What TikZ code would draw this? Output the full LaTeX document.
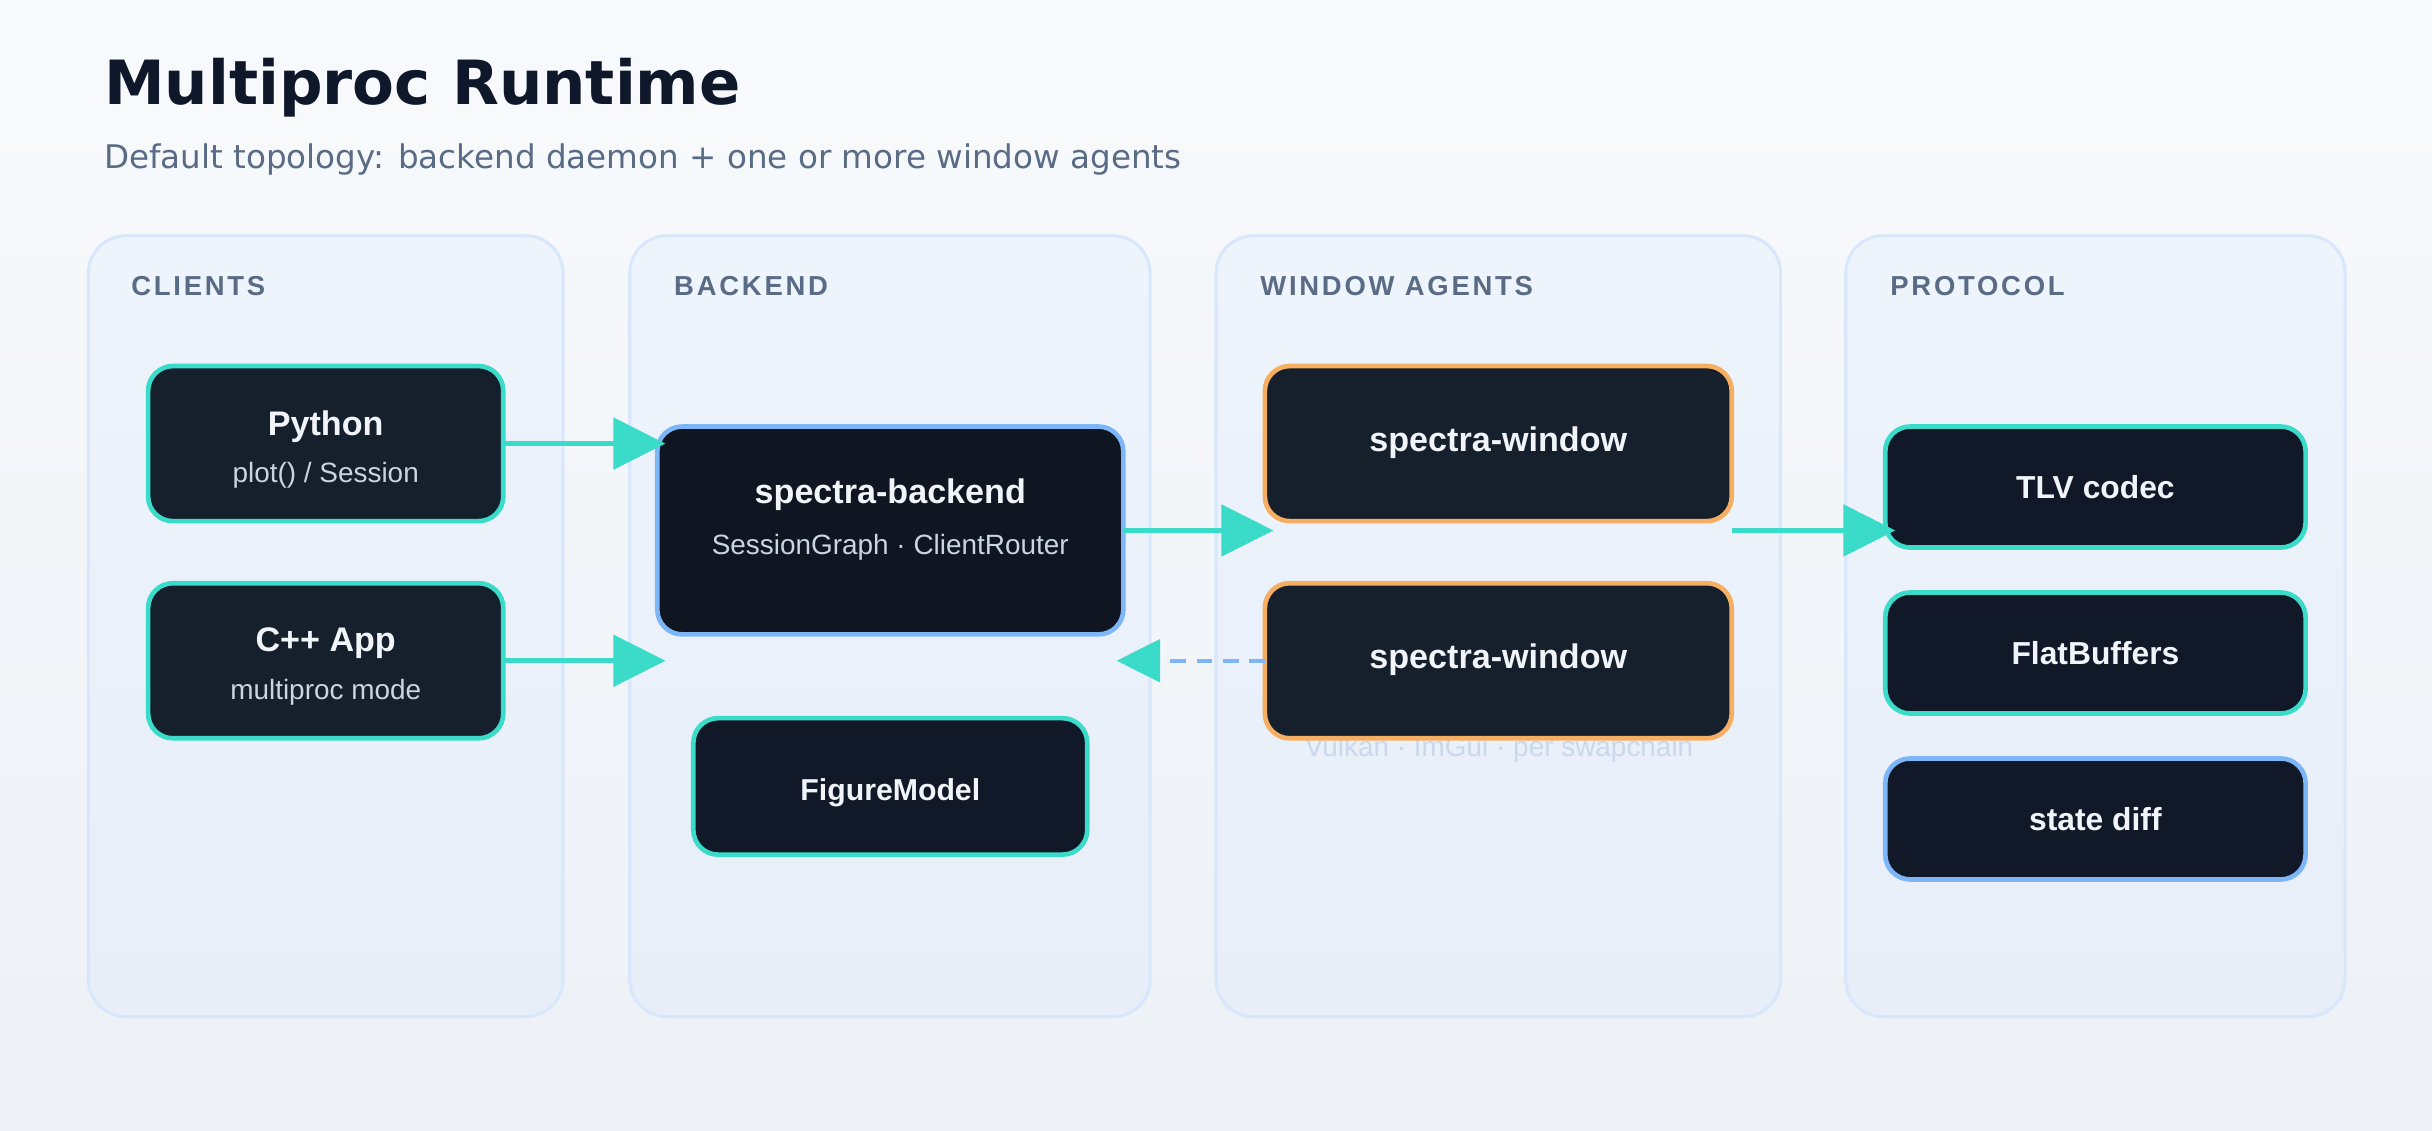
\documentclass[tikz,border=0pt]{standalone}
\usepackage{fontspec}
\usetikzlibrary{arrows.meta,calc}
\newfontfamily\dejavu{DejaVu Sans}
\newfontfamily\lib{Liberation Sans}
\newfontfamily\lblfont[LetterSpace=10]{Liberation Sans}
\definecolor{bgtop}{HTML}{F8FAFC}
\definecolor{bgbot}{HTML}{EDF1F6}
\definecolor{paneltop}{HTML}{EEF4FC}
\definecolor{panelbot}{HTML}{E7EEF8}
\definecolor{panelborder}{HTML}{D8E7FB}
\definecolor{nodeA}{HTML}{161F2C}
\definecolor{nodeB}{HTML}{0F1521}
\definecolor{nodeC}{HTML}{111827}
\definecolor{tealE}{HTML}{3ADBC9}
\definecolor{blueE}{HTML}{7DB6F8}
\definecolor{orangeE}{HTML}{F5AE62}
\definecolor{titleC}{HTML}{0F172A}
\definecolor{slateC}{HTML}{5A6B86}
\definecolor{whiteT}{HTML}{F1F5F9}
\definecolor{subT}{HTML}{CBD5E1}
\definecolor{faintT}{HTML}{C9D8EB}
\tikzset{
  panel/.style={line width=2pt, draw=panelborder, top color=paneltop, bottom color=panelbot, rounded corners=24pt},
  lbl/.style={anchor=base west, inner sep=0pt, text=slateC, font=\lblfont\bfseries\fontsize{17.7}{21}\selectfont},
  box/.style={rectangle, rounded corners=16pt, line width=3pt, inner sep=0pt, outer sep=0pt},
  tealbox/.style={box, draw=tealE},
  bluebox/.style={box, draw=blueE},
  orangebox/.style={box, draw=orangeE},
  ttl/.style={anchor=base, inner sep=0pt, text=whiteT, font=\lib\bfseries\fontsize{22}{26}\selectfont},
  sml/.style={anchor=base, inner sep=0pt, text=whiteT, font=\lib\bfseries\fontsize{20.5}{24}\selectfont},
  sub/.style={anchor=base, inner sep=0pt, text=subT, font=\lib\fontsize{18}{22}\selectfont},
  arr/.style={line width=3pt, draw=tealE, -{Triangle[length=33.5pt, width=33pt, color=tealE]}},
  darr/.style={line width=2.5pt, draw=blueE, dash pattern=on 10pt off 7pt, -{Triangle[length=28pt, width=27.5pt, color=tealE]}}
}
\begin{document}
\begin{tikzpicture}[x=1pt, y=-1pt]
\useasboundingbox (0,0) rectangle (1568,729);
\shade[top color=bgtop, bottom color=bgbot] (0,0) rectangle (1568,729);

% title
\node[anchor=base west, inner sep=0pt, text=titleC, font=\dejavu\bfseries\fontsize{39.3}{47}\selectfont] (title) at (67,67.3) {Multiproc Runtime};
\node[anchor=base west, inner sep=0pt, text=slateC, font=\dejavu\fontsize{21}{25}\selectfont] (subtitle) at (67,108.5) {Default topology: backend daemon + one or more window agents};

% panels
\path[panel] (57,152) rectangle (363,655.5);
\path[panel] (406,152) rectangle (741.5,655.5);
\path[panel] (784,152) rectangle (1148,655.5);
\path[panel] (1190,152) rectangle (1512,655.5);
\node[lbl] (l1) at (84.5,190.8) {CLIENTS};
\node[lbl] (l2) at (434.5,190.8) {BACKEND};
\node[lbl] (l3) at (812.4,190.8) {WINDOW AGENTS};
\node[lbl] (l4) at (1218.6,190.8) {PROTOCOL};

% faint caption (under window box)
\node[anchor=base, inner sep=0pt, text=faintT, font=\lib\fontsize{18}{22}\selectfont] (cap) at (966.5,487.5) {Vulkan · ImGui · per swapchain};

% clients
\node[tealbox, fill=nodeA, minimum width=229pt, minimum height=100pt] (py) at (210,286) {};
\node[ttl] (pyt) at ($(py.center)+(0,-5.4)$) {Python};
\node[sub] (pys) at ($(py.center)+(0,25)$) {plot() / Session};
\node[tealbox, fill=nodeA, minimum width=229pt, minimum height=100pt] (cpp) at (210,426) {};
\node[ttl] (cppt) at ($(cpp.center)+(0,-5.8)$) {C++ App};
\node[sub] (cpps) at ($(cpp.center)+(0,25)$) {multiproc mode};

% backend
\node[bluebox, fill=nodeB, minimum width=300.5pt, minimum height=134pt] (be) at (574,342) {};
\node[ttl] (bet) at ($(be.center)+(0,-17.5)$) {spectra-backend};
\node[sub] (bes) at ($(be.center)+(0,15.8)$) {SessionGraph · ClientRouter};
\node[tealbox, fill=nodeC, minimum width=254pt, minimum height=88pt] (fm) at (574,507) {};
\node[anchor=base, inner sep=0pt, text=whiteT, font=\lib\bfseries\fontsize{19.5}{23}\selectfont] (fmt) at ($(fm.center)+(0,9.2)$) {FigureModel};

% window agents
\node[orangebox, fill=nodeA, minimum width=301pt, minimum height=100pt] (w1) at (966,286) {};
\node[ttl] (w1t) at ($(w1.center)+(0,5.2)$) {spectra-window};
\node[orangebox, fill=nodeA, minimum width=301pt, minimum height=100pt] (w2) at (966,426) {};
\node[ttl] (w2t) at ($(w2.center)+(0,5.2)$) {spectra-window};

% protocol
\node[tealbox, fill=nodeC, minimum width=271pt, minimum height=78pt] (tlv) at (1351,314) {};
\node[sml] (tlvt) at ($(tlv.center)+(0,7.3)$) {TLV codec};
\node[tealbox, fill=nodeC, minimum width=271pt, minimum height=78pt] (fb) at (1351,421) {};
\node[sml] (fbt) at ($(fb.center)+(0,7.3)$) {FlatBuffers};
\node[bluebox, fill=nodeC, minimum width=271pt, minimum height=78pt] (sd) at (1351,528) {};
\node[sml] (sdt) at ($(sd.center)+(0,7.3)$) {state diff};

% connectors
\coordinate (t1) at (429,286);
\coordinate (t2) at (429,426);
\coordinate (t3) at (821,342);
\coordinate (t4) at (720,426);
\coordinate (t5) at (1222,342);
\draw[arr] (py.east) -- (t1);
\draw[arr] (cpp.east) -- (t2);
\draw[arr] (be.east) -- (t3);
\draw[darr] (w2.west) -- (t4);
\draw[arr] (w1.east |- be.east) -- (t5);
\end{tikzpicture}
\end{document}
